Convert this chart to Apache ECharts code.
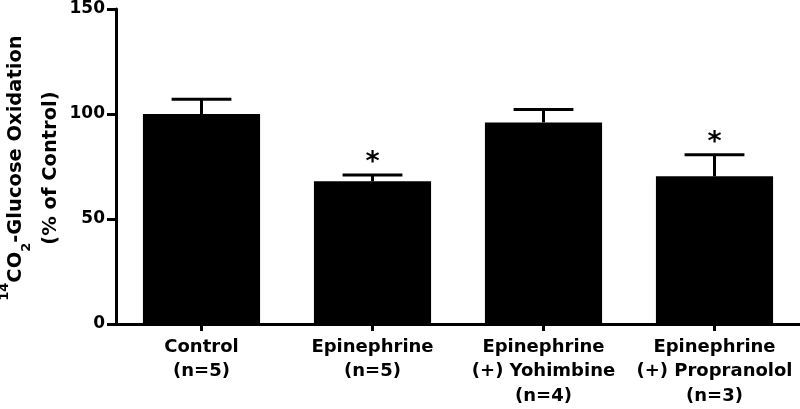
<!DOCTYPE html>
<html>
<head>
<meta charset="utf-8">
<script src="https://cdn.jsdelivr.net/npm/echarts@6/dist/echarts.min.js"></script>
<style>
html,body{margin:0;padding:0;background:#fff;}
#chart{width:800px;height:409px;}
</style>
</head>
<body>
<div id="chart"></div>
<script>
var categories = ['Control\n(n=5)', 'Epinephrine\n(n=5)', 'Epinephrine\n(+) Yohimbine\n(n=4)', 'Epinephrine\n(+) Propranolol\n(n=3)'];
var means = [100, 68, 96, 70.3];
var sems = [7, 3, 6.2, 10.3];
var significance = ['', '*', '', '*'];
var yTicks = [0, 50, 100, 150];
var yTitle = '{sup|14}{b|CO}{sub|2}{b|-Glucose Oxidation}\n{b|(% of Control)}';

var FONT = 'DejaVu Sans';
var chart = echarts.init(document.getElementById('chart'), null, {renderer: 'canvas'});

var errData = means.map(function (m, i) { return [i, m, m + sems[i], significance[i]]; });

chart.setOption({
  animation: false,
  backgroundColor: '#fff',
  grid: {left: 116, right: 0, top: 9, bottom: 85, containLabel: false, outerBoundsMode: 'none'},
  graphic: [{
    type: 'text',
    x: 33,
    y: 168,
    rotation: Math.PI / 2,
    style: {
      text: yTitle,
      align: 'center',
      verticalAlign: 'middle',
      fill: '#000',
      font: 'bold 19.5px "' + FONT + '"',
      lineHeight: 35,
      rich: {
        b: {fontFamily: FONT, fontWeight: 'bold', fontSize: 19.5, fill: '#000', lineHeight: 35},
        sup: {fontFamily: FONT, fontWeight: 'bold', fontSize: 13, fill: '#000', verticalAlign: 'top', lineHeight: 21},
        sub: {fontFamily: FONT, fontWeight: 'bold', fontSize: 13, fill: '#000', verticalAlign: 'bottom', lineHeight: 20}
      }
    }
  }],
  xAxis: {
    type: 'category',
    data: categories,
    boundaryGap: true,
    axisLine: {show: true, lineStyle: {color: '#000', width: 3}},
    axisTick: {show: true, alignWithLabel: true, length: 7, lineStyle: {color: '#000', width: 3}},
    axisLabel: {
      color: '#000', fontFamily: FONT, fontWeight: 'bold', fontSize: 18,
      lineHeight: 24.5, margin: 11, interval: 0
    },
    splitLine: {show: false}
  },
  yAxis: {
    type: 'value',
    min: yTicks[0], max: yTicks[yTicks.length - 1], interval: 50,
    axisLine: {show: true, lineStyle: {color: '#000', width: 3}},
    axisTick: {show: true, length: 9, lineStyle: {color: '#000', width: 3}},
    axisLabel: {color: '#000', fontFamily: FONT, fontWeight: 'bold', fontSize: 17, margin: 11},
    splitLine: {show: false}
  },
  series: [
    {
      type: 'bar',
      data: means,
      barWidth: '68.5%',
      itemStyle: {color: '#000'},
      z: 2
    },
    {
      type: 'custom',
      data: errData,
      z: 3,
      renderItem: function (params, api) {
        var i = api.value(0);
        var base = api.coord([i, api.value(1)]);
        var top = api.coord([i, api.value(2)]);
        var band = api.size([1, 0])[0];
        var half = band * 0.175;
        var children = [
          {type: 'line', shape: {x1: base[0], y1: base[1], x2: top[0], y2: top[1]}, style: {stroke: '#000', lineWidth: 3}},
          {type: 'line', shape: {x1: top[0] - half, y1: top[1], x2: top[0] + half, y2: top[1]}, style: {stroke: '#000', lineWidth: 3}}
        ];
        var sig = significance[params.dataIndex];
        if (sig) {
          children.push({
            type: 'text',
            style: {
              text: sig, x: top[0], y: top[1] + 2,
              align: 'center', verticalAlign: 'bottom',
              font: 'bold 27px "' + FONT + '"', fill: '#000'
            }
          });
        }
        return {type: 'group', children: children};
      }
    }
  ]
});
</script>
</body>
</html>
